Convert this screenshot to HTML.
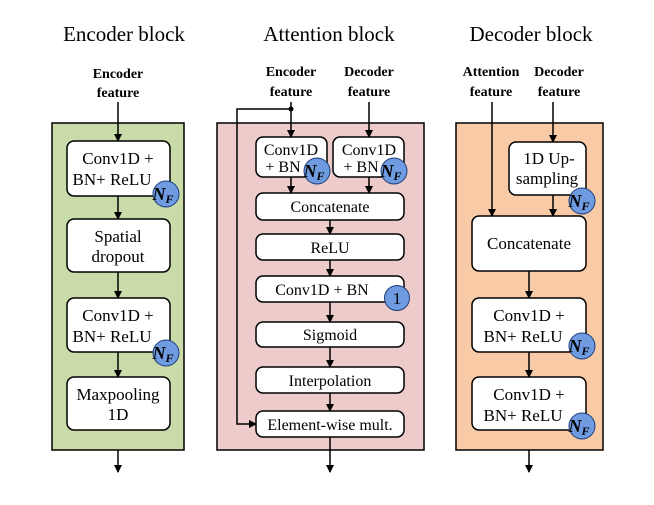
<!DOCTYPE html>
<html><head><style>body{margin:0;background:#fff}svg{display:block}</style></head><body>
<svg width="654" height="505" viewBox="0 0 654 505" xmlns="http://www.w3.org/2000/svg" font-family="Liberation Serif, serif">
<defs><marker id="a" markerWidth="8" markerHeight="8" refX="7" refY="4" orient="auto" markerUnits="userSpaceOnUse"><path d="M0,0 L8,4 L0,8 z" fill="#000"/></marker></defs>
<g font-size="21" text-anchor="middle" fill="#000">
<text x="124" y="41">Encoder block</text>
<text x="329" y="41">Attention block</text>
<text x="531" y="41">Decoder block</text>
</g>
<g font-size="14" font-weight="bold" text-anchor="middle">
<text x="118" y="78">Encoder</text><text x="118" y="97">feature</text>
<text x="291" y="76">Encoder</text><text x="291" y="96">feature</text>
<text x="369" y="76">Decoder</text><text x="369" y="96">feature</text>
<text x="491" y="76">Attention</text><text x="491" y="96">feature</text>
<text x="559" y="76">Decoder</text><text x="559" y="96">feature</text>
</g>
<rect x="52" y="123" width="132" height="327" fill="#c9dba9" stroke="#000" stroke-width="1.5"/>
<rect x="217" y="123" width="207" height="327" fill="#eccbca" stroke="#000" stroke-width="1.5"/>
<rect x="456" y="123" width="147" height="327" fill="#f8cba6" stroke="#000" stroke-width="1.5"/>
<g stroke="#000" stroke-width="1.5" fill="none" marker-end="url(#a)">
<line x1="118" y1="102" x2="118" y2="141"/><line x1="118" y1="196" x2="118" y2="219"/><line x1="118" y1="272" x2="118" y2="298"/><line x1="118" y1="352" x2="118" y2="377"/><line x1="118" y1="450" x2="118" y2="472"/>
<line x1="291" y1="102" x2="291" y2="137"/><line x1="369" y1="102" x2="369" y2="137"/>
<line x1="291" y1="177" x2="291" y2="193"/><line x1="369" y1="177" x2="369" y2="193"/>
<line x1="330" y1="220" x2="330" y2="234"/><line x1="330" y1="260" x2="330" y2="276"/><line x1="330" y1="302" x2="330" y2="322"/><line x1="330" y1="347" x2="330" y2="367"/><line x1="330" y1="393" x2="330" y2="411"/><line x1="330" y1="437" x2="330" y2="472"/>
<polyline points="291,109 237,109 237,424 256,424"/>
<line x1="492" y1="102" x2="492" y2="216"/><line x1="553" y1="102" x2="553" y2="142"/><line x1="553" y1="195" x2="553" y2="216"/>
<line x1="529" y1="271" x2="529" y2="298"/><line x1="529" y1="352" x2="529" y2="377"/><line x1="529" y1="450" x2="529" y2="472"/>
</g>
<circle cx="291" cy="109" r="2.5" fill="#000"/>
<g fill="#fff" stroke="#000" stroke-width="1.5">
<rect x="67" y="141" width="103" height="55" rx="7"/><rect x="67" y="219" width="103" height="53" rx="7"/><rect x="67" y="298" width="103" height="54" rx="7"/><rect x="67" y="377" width="103" height="53" rx="7"/>
<rect x="256" y="137" width="71" height="40" rx="7"/><rect x="333" y="137" width="71" height="40" rx="7"/>
<rect x="256" y="193" width="148" height="27" rx="7"/><rect x="256" y="234" width="148" height="26" rx="7"/><rect x="256" y="276" width="148" height="26" rx="7"/><rect x="256" y="322" width="148" height="25" rx="7"/><rect x="256" y="367" width="148" height="26" rx="7"/><rect x="256" y="411" width="148" height="26" rx="7"/>
<rect x="509" y="142" width="77" height="53" rx="7"/><rect x="472" y="216" width="114" height="55" rx="7"/><rect x="472" y="298" width="114" height="54" rx="7"/><rect x="472" y="377" width="114" height="53" rx="7"/>
</g>
<g font-size="17" text-anchor="middle">
<text x="118" y="164">Conv1D +</text><text x="112" y="185">BN+ ReLU</text>
<text x="118" y="242">Spatial</text><text x="118" y="262">dropout</text>
<text x="118" y="321">Conv1D +</text><text x="112" y="342">BN+ ReLU</text>
<text x="118" y="400">Maxpooling</text><text x="118" y="420">1D</text>
<text x="291" y="155" font-size="16">Conv1D</text><text x="283" y="172" font-size="16">+ BN</text>
<text x="369" y="155" font-size="16">Conv1D</text><text x="361" y="172" font-size="16">+ BN</text>
<text x="330" y="212" font-size="16">Concatenate</text>
<text x="330" y="253" font-size="16">ReLU</text>
<text x="322" y="295" font-size="16">Conv1D + BN</text>
<text x="330" y="340" font-size="16">Sigmoid</text>
<text x="330" y="386" font-size="16">Interpolation</text>
<text x="330" y="430" font-size="16">Element-wise mult.</text>
<text x="549" y="164">1D Up-</text><text x="547" y="184">sampling</text>
<text x="529" y="249">Concatenate</text>
<text x="529" y="321">Conv1D +</text><text x="523" y="342">BN+ ReLU</text>
<text x="529" y="400">Conv1D +</text><text x="523" y="421">BN+ ReLU</text>
</g>
<g fill="#6f9be0" stroke="#1f3d78" stroke-width="1">
<circle cx="166" cy="194" r="13"/><circle cx="166" cy="353" r="13"/>
<circle cx="317" cy="171" r="13"/><circle cx="394" cy="171" r="13"/><circle cx="397" cy="298" r="12.5"/>
<circle cx="582" cy="201" r="13"/><circle cx="582" cy="346" r="13"/><circle cx="582" cy="426" r="13"/>
</g>
<g font-size="18" font-style="italic" font-weight="bold" text-anchor="middle">
<text x="163" y="200">N<tspan font-size="12" dy="3">F</tspan></text>
<text x="163" y="359">N<tspan font-size="12" dy="3">F</tspan></text>
<text x="314" y="177">N<tspan font-size="12" dy="3">F</tspan></text>
<text x="391" y="177">N<tspan font-size="12" dy="3">F</tspan></text>
<text x="579" y="207">N<tspan font-size="12" dy="3">F</tspan></text>
<text x="579" y="352">N<tspan font-size="12" dy="3">F</tspan></text>
<text x="579" y="432">N<tspan font-size="12" dy="3">F</tspan></text>
</g>
<text x="397" y="304" font-size="17" text-anchor="middle">1</text>
</svg>
</body></html>
